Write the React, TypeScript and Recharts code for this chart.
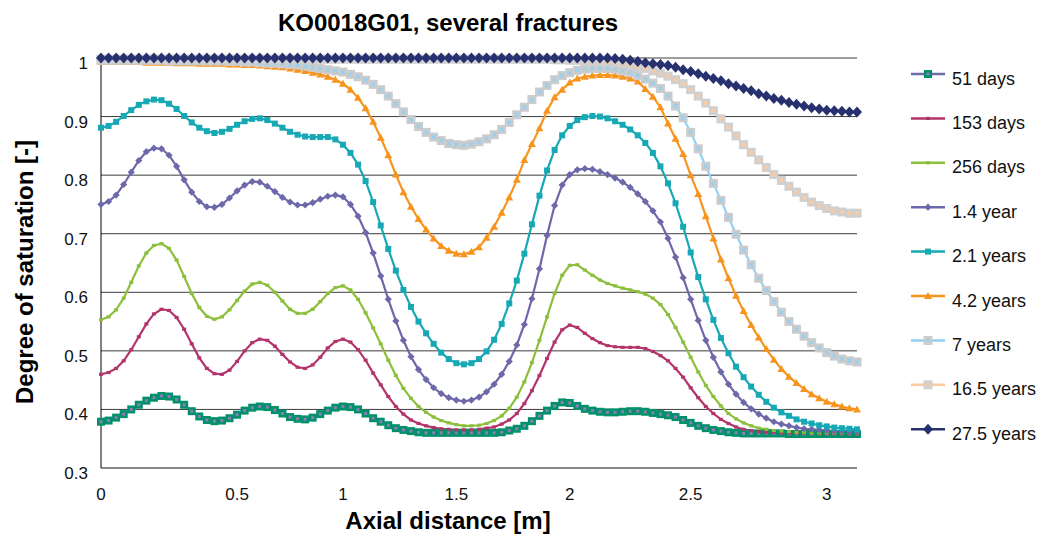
import { LineChart, Line, XAxis, YAxis, CartesianGrid } from 'recharts';

// Nodes along the borehole axis; labels sit on selected nodes (non-uniform mesh)
const tickNodes = [0, 18, 32, 47, 62, 78, 96];
const tickLabels = ['0', '0.5', '1', '1.5', '2', '2.5', '3'];
const saturationTicks = [0.3, 0.4, 0.5, 0.6, 0.7, 0.8, 0.9, 1.0];

const days51 = [
  0.379, 0.381, 0.386, 0.392, 0.400, 0.408, 0.415, 0.420, 0.423, 0.422,
  0.417, 0.408, 0.397, 0.388, 0.382, 0.380, 0.381, 0.385, 0.391, 0.398,
  0.403, 0.405, 0.404, 0.399, 0.393, 0.387, 0.384, 0.383, 0.386, 0.392,
  0.398, 0.403, 0.405, 0.404, 0.400, 0.393, 0.385, 0.379, 0.373, 0.368,
  0.365, 0.363, 0.361, 0.360, 0.360, 0.360, 0.360, 0.360, 0.360, 0.360,
  0.360, 0.360, 0.360, 0.361, 0.364, 0.367, 0.372, 0.380, 0.389, 0.398,
  0.406, 0.412, 0.411, 0.406, 0.401, 0.398, 0.396, 0.395, 0.395, 0.396,
  0.397, 0.397, 0.396, 0.394, 0.392, 0.390, 0.387, 0.382, 0.377, 0.372,
  0.368, 0.365, 0.363, 0.361, 0.360, 0.359, 0.359, 0.359, 0.359, 0.359,
  0.359, 0.358, 0.358, 0.358, 0.358, 0.358, 0.358, 0.358, 0.358, 0.358,
  0.358,
];

const days153 = [
  0.460, 0.463, 0.470, 0.483, 0.502, 0.524, 0.546, 0.563, 0.571, 0.569,
  0.557, 0.537, 0.512, 0.488, 0.470, 0.461, 0.460, 0.467, 0.482, 0.500,
  0.514, 0.520, 0.518, 0.508, 0.494, 0.481, 0.472, 0.470, 0.476, 0.489,
  0.505, 0.516, 0.520, 0.515, 0.502, 0.484, 0.462, 0.442, 0.422, 0.405,
  0.392, 0.382, 0.376, 0.372, 0.369, 0.367, 0.366, 0.365, 0.365, 0.365,
  0.366, 0.368, 0.370, 0.375, 0.382, 0.393, 0.410, 0.432, 0.458, 0.487,
  0.515, 0.536, 0.544, 0.540, 0.530, 0.521, 0.514, 0.509, 0.507, 0.506,
  0.506, 0.506, 0.504, 0.499, 0.492, 0.483, 0.470, 0.455, 0.437, 0.420,
  0.405, 0.393, 0.383, 0.376, 0.370, 0.366, 0.364, 0.362, 0.361, 0.361,
  0.360, 0.360, 0.360, 0.360, 0.360, 0.359, 0.359, 0.359, 0.359, 0.359,
  0.359,
];

const days256 = [
  0.553, 0.558, 0.570, 0.590, 0.617, 0.645, 0.667, 0.680, 0.683, 0.675,
  0.655, 0.627, 0.598, 0.574, 0.559, 0.554, 0.558, 0.570, 0.586, 0.602,
  0.614, 0.617, 0.612, 0.600, 0.585, 0.571, 0.564, 0.564, 0.571, 0.584,
  0.598, 0.608, 0.611, 0.604, 0.588, 0.565, 0.539, 0.512, 0.484, 0.458,
  0.436, 0.419, 0.405, 0.395, 0.387, 0.381, 0.377, 0.374, 0.372, 0.372,
  0.373, 0.376, 0.381, 0.389, 0.402, 0.421, 0.447, 0.480, 0.518, 0.558,
  0.598, 0.629, 0.646, 0.647, 0.638, 0.629, 0.621, 0.615, 0.611, 0.607,
  0.604, 0.601, 0.597, 0.590, 0.579, 0.562, 0.540, 0.515, 0.489, 0.464,
  0.441, 0.422, 0.406, 0.393, 0.384, 0.377, 0.372, 0.368, 0.366, 0.364,
  0.363, 0.362, 0.361, 0.361, 0.360, 0.360, 0.360, 0.360, 0.360, 0.360,
  0.360,
];

const year1_4 = [
  0.750, 0.755, 0.766, 0.784, 0.805, 0.825, 0.840, 0.846, 0.845, 0.834,
  0.815, 0.792, 0.771, 0.755, 0.746, 0.745, 0.750, 0.761, 0.773, 0.783,
  0.789, 0.788, 0.781, 0.772, 0.762, 0.754, 0.749, 0.749, 0.753, 0.759,
  0.764, 0.766, 0.763, 0.750, 0.730, 0.702, 0.667, 0.628, 0.588, 0.551,
  0.518, 0.490, 0.468, 0.451, 0.437, 0.427, 0.420, 0.416, 0.414, 0.416,
  0.421, 0.430, 0.443, 0.460, 0.482, 0.510, 0.545, 0.589, 0.640, 0.697,
  0.748, 0.783, 0.801, 0.809, 0.811, 0.810, 0.806, 0.801, 0.795, 0.788,
  0.779, 0.768, 0.755, 0.739, 0.720, 0.692, 0.660, 0.625, 0.588, 0.552,
  0.518, 0.489, 0.464, 0.443, 0.426, 0.412, 0.401, 0.392, 0.385, 0.379,
  0.375, 0.372, 0.369, 0.367, 0.366, 0.365, 0.364, 0.363, 0.363, 0.362,
  0.362,
];

const years2_1 = [
  0.881, 0.884, 0.891, 0.901, 0.911, 0.920, 0.926, 0.929, 0.928, 0.922,
  0.913, 0.901, 0.890, 0.881, 0.875, 0.872, 0.874, 0.879, 0.886, 0.892,
  0.896, 0.897, 0.894, 0.888, 0.881, 0.874, 0.869, 0.866, 0.865, 0.865,
  0.865, 0.861, 0.852, 0.838, 0.818, 0.790, 0.754, 0.714, 0.674, 0.637,
  0.604, 0.575, 0.550, 0.530, 0.512, 0.497, 0.486, 0.479, 0.477, 0.479,
  0.486, 0.499, 0.519, 0.546, 0.581, 0.620, 0.666, 0.716, 0.765, 0.808,
  0.843, 0.868, 0.884, 0.894, 0.899, 0.901, 0.900, 0.897, 0.892, 0.886,
  0.878, 0.868, 0.855, 0.838, 0.815, 0.786, 0.752, 0.712, 0.668, 0.626,
  0.588, 0.553, 0.522, 0.496, 0.473, 0.455, 0.439, 0.425, 0.413, 0.403,
  0.395, 0.389, 0.383, 0.379, 0.376, 0.373, 0.371, 0.369, 0.368, 0.367,
  0.366,
];

const years4_2 = [
  0.993, 0.993, 0.993, 0.993, 0.993, 0.993, 0.992, 0.992, 0.992, 0.992,
  0.991, 0.991, 0.991, 0.990, 0.990, 0.990, 0.990, 0.989, 0.989, 0.988,
  0.988, 0.987, 0.986, 0.985, 0.984, 0.982, 0.980, 0.978, 0.975, 0.972,
  0.968, 0.963, 0.956, 0.946, 0.932, 0.914, 0.891, 0.864, 0.834, 0.801,
  0.771, 0.746, 0.725, 0.707, 0.692, 0.679, 0.671, 0.666, 0.665, 0.669,
  0.677, 0.693, 0.712, 0.736, 0.762, 0.792, 0.826, 0.853, 0.880, 0.910,
  0.933, 0.946, 0.958, 0.965, 0.968, 0.970, 0.971, 0.971, 0.970, 0.968,
  0.965, 0.960, 0.947, 0.934, 0.916, 0.888, 0.862, 0.836, 0.800, 0.768,
  0.730, 0.692, 0.656, 0.624, 0.594, 0.568, 0.544, 0.523, 0.503, 0.485,
  0.469, 0.456, 0.445, 0.435, 0.426, 0.419, 0.413, 0.409, 0.405, 0.402,
  0.400,
];

const years7 = [
  0.996, 0.996, 0.996, 0.996, 0.996, 0.996, 0.996, 0.996, 0.996, 0.995,
  0.995, 0.995, 0.995, 0.995, 0.995, 0.995, 0.995, 0.994, 0.994, 0.993,
  0.993, 0.992, 0.991, 0.991, 0.990, 0.989, 0.988, 0.986, 0.984, 0.982,
  0.980, 0.978, 0.976, 0.972, 0.968, 0.962, 0.955, 0.946, 0.935, 0.922,
  0.908, 0.895, 0.883, 0.873, 0.865, 0.859, 0.854, 0.852, 0.851, 0.853,
  0.857, 0.862, 0.869, 0.878, 0.890, 0.903, 0.916, 0.929, 0.942, 0.953,
  0.963, 0.970, 0.975, 0.979, 0.981, 0.982, 0.982, 0.982, 0.981, 0.978,
  0.975, 0.970, 0.964, 0.957, 0.948, 0.935, 0.918, 0.898, 0.873, 0.845,
  0.815, 0.786, 0.757, 0.728, 0.699, 0.672, 0.647, 0.624, 0.603, 0.584,
  0.566, 0.550, 0.537, 0.525, 0.514, 0.505, 0.497, 0.491, 0.486, 0.483,
  0.481,
];

const years16_5 = [
  0.998, 0.998, 0.998, 0.998, 0.998, 0.998, 0.998, 0.998, 0.998, 0.998,
  0.998, 0.998, 0.998, 0.998, 0.998, 0.998, 0.998, 0.998, 0.998, 0.998,
  0.998, 0.998, 0.998, 0.998, 0.998, 0.998, 0.998, 0.998, 0.998, 0.998,
  0.998, 0.998, 0.998, 0.998, 0.998, 0.998, 0.998, 0.998, 0.998, 0.998,
  0.998, 0.998, 0.998, 0.998, 0.998, 0.998, 0.998, 0.998, 0.998, 0.998,
  0.998, 0.998, 0.998, 0.998, 0.998, 0.998, 0.998, 0.998, 0.998, 0.998,
  0.997, 0.997, 0.996, 0.996, 0.995, 0.995, 0.994, 0.993, 0.992, 0.990,
  0.988, 0.985, 0.982, 0.978, 0.974, 0.969, 0.963, 0.956, 0.946, 0.935,
  0.923, 0.910, 0.896, 0.882, 0.867, 0.852, 0.839, 0.826, 0.813, 0.801,
  0.791, 0.781, 0.771, 0.762, 0.754, 0.748, 0.743, 0.739, 0.737, 0.735,
  0.735,
];

const years27_5 = [
  1, 1, 1, 1, 1, 1, 1, 1, 1, 1,
  1, 1, 1, 1, 1, 1, 1, 1, 1, 1,
  1, 1, 1, 1, 1, 1, 1, 1, 1, 1,
  1, 1, 1, 1, 1, 1, 1, 1, 1, 1,
  1, 1, 1, 1, 1, 1, 1, 1, 1, 1,
  1, 1, 1, 1, 1, 1, 1, 1, 1, 1,
  1, 1, 1, 1, 1, 1, 1, 1, 0.999, 0.998,
  0.996, 0.994, 0.992, 0.990, 0.989, 0.987, 0.984, 0.980, 0.977, 0.973,
  0.969, 0.965, 0.961, 0.956, 0.952, 0.948, 0.944, 0.939, 0.935, 0.931,
  0.928, 0.924, 0.921, 0.918, 0.915, 0.913, 0.911, 0.910, 0.909, 0.908,
  0.908,
];

type Marker = 'greenSquare' | 'dash' | 'smallDiamond' | 'smallSquare' | 'triangle' | 'graySquareX' | 'graySquare' | 'bigDiamond';

const SERIES: { key: string; name: string; values: number[]; color: string; marker: Marker }[] = [
  { key: 'd51', name: '51 days', values: days51, color: '#6f6aa8', marker: 'greenSquare' },
  { key: 'd153', name: '153 days', values: days153, color: '#b3336c', marker: 'dash' },
  { key: 'd256', name: '256 days', values: days256, color: '#8cbf3c', marker: 'dash' },
  { key: 'y14', name: '1.4 year', values: year1_4, color: '#6c68a9', marker: 'smallDiamond' },
  { key: 'y21', name: '2.1 years', values: years2_1, color: '#16a9b5', marker: 'smallSquare' },
  { key: 'y42', name: '4.2 years', values: years4_2, color: '#f7941e', marker: 'triangle' },
  { key: 'y7', name: '7 years', values: years7, color: '#93d0f1', marker: 'graySquareX' },
  { key: 'y165', name: '16.5 years', values: years16_5, color: '#fbcaa0', marker: 'graySquare' },
  { key: 'y275', name: '27.5 years', values: years27_5, color: '#28316f', marker: 'bigDiamond' },
];

const rows = days51.map((_, node) => {
  const row: Record<string, number> = { node };
  SERIES.forEach((s) => {
    row[s.key] = s.values[node];
  });
  return row;
});

const FONT = '"Liberation Sans", Arial, sans-serif';

function drawMarker(kind: Marker, color: string, cx: number, cy: number, key: string) {
  switch (kind) {
    case 'greenSquare':
      return (
        <g key={key}>
          <rect x={cx - 4} y={cy - 4} width={8} height={8} fill="#00916b" />
          <rect x={cx - 1.5} y={cy - 1.5} width={3} height={3} fill="#8a7fb6" />
        </g>
      );
    case 'dash':
      return <rect key={key} x={cx - 2} y={cy - 1.6} width={4} height={3.2} fill={color} />;
    case 'smallDiamond':
      return <path key={key} d={`M${cx},${cy - 3.6}L${cx + 3.6},${cy}L${cx},${cy + 3.6}L${cx - 3.6},${cy}Z`} fill={color} />;
    case 'smallSquare':
      return <rect key={key} x={cx - 3} y={cy - 3} width={6} height={6} fill={color} />;
    case 'triangle':
      return <path key={key} d={`M${cx},${cy - 4}L${cx + 4},${cy + 3}L${cx - 4},${cy + 3}Z`} fill={color} />;
    case 'graySquareX':
      return (
        <g key={key}>
          <rect x={cx - 4.5} y={cy - 4.5} width={9} height={9} fill="#cccccc" />
          <path d={`M${cx - 2},${cy - 2}L${cx + 2},${cy + 2}M${cx + 2},${cy - 2}L${cx - 2},${cy + 2}`} stroke={color} strokeWidth={1.3} />
        </g>
      );
    case 'graySquare':
      return (
        <g key={key}>
          <rect x={cx - 4.5} y={cy - 4.5} width={9} height={9} fill="#d0d0d0" />
          <rect x={cx - 1.8} y={cy - 1.8} width={3.6} height={3.6} fill={color} />
        </g>
      );
    case 'bigDiamond':
      return <path key={key} d={`M${cx},${cy - 5.5}L${cx + 5},${cy}L${cx},${cy + 5.5}L${cx - 5},${cy}Z`} fill={color} />;
  }
}

const dotFor = (kind: Marker, color: string, seriesKey: string) => (props: any) => {
  const { cx, cy, index } = props;
  const key = `${seriesKey}-${index}`;
  if (cx == null || cy == null) return <g key={key} />;
  return drawMarker(kind, color, cx, cy, key);
};

export default function App() {
  return (
    <div style={{ position: 'absolute', left: 0, top: 0, width: 1042, height: 542, background: '#fff' }}>
      <LineChart width={1042} height={542} data={rows} margin={{ top: 58, right: 185, bottom: 44, left: 41 }}>
        <CartesianGrid vertical={false} stroke="#3c3c3c" />
        <XAxis
          type="number"
          dataKey="node"
          domain={[0, 100]}
          ticks={tickNodes}
          interval={0}
          tickFormatter={(v: number) => tickLabels[tickNodes.indexOf(v)]}
          tickLine={false}
          tickSize={0}
          tickMargin={20}
          height={30}
          axisLine={{ stroke: '#888888', strokeWidth: 2 }}
          tick={{ fill: '#111', fontSize: 17, fontFamily: FONT }}
        />
        <YAxis
          type="number"
          domain={[0.3, 1]}
          ticks={saturationTicks}
          interval={0}
          tickFormatter={(v: number) => String(Math.round(v * 10) / 10)}
          tickLine={false}
          tickSize={0}
          tickMargin={13}
          width={60}
          axisLine={{ stroke: '#000', strokeWidth: 1 }}
          tick={{ fill: '#111', fontSize: 17, fontFamily: FONT, dy: 5 }}
        />
        {SERIES.map((s) => (
          <Line
            key={s.key}
            dataKey={s.key}
            name={s.name}
            type="linear"
            stroke={s.color}
            strokeWidth={2.2}
            dot={dotFor(s.marker, s.color, s.key)}
            activeDot={false}
            isAnimationActive={false}
          />
        ))}
      </LineChart>

      <svg
        width={1042}
        height={542}
        style={{ position: 'absolute', left: 0, top: 0, pointerEvents: 'none' }}
        fontFamily={FONT}
      >
        <text x={448} y={31} textAnchor="middle" fontSize={24} fontWeight="bold" fill="#000">
          KO0018G01, several fractures
        </text>
        <text x={448} y={529} textAnchor="middle" fontSize={24} fontWeight="bold" fill="#000">
          Axial distance [m]
        </text>
        <text x={33} y={272} textAnchor="middle" fontSize={24} fontWeight="bold" fill="#000" transform="rotate(-90 33 272)">
          Degree of saturation [-]
        </text>
        {SERIES.map((s, i) => {
          const y = 74 + i * 44.4;
          return (
            <g key={s.key}>
              <line x1={911} x2={945} y1={y} y2={y} stroke={s.color} strokeWidth={2.5} />
              {drawMarker(s.marker, s.color, 928, y, `lg-${s.key}`)}
              <text x={952} y={y + 10.5} fontSize={18} fill="#111">
                {s.name}
              </text>
            </g>
          );
        })}
      </svg>
    </div>
  );
}
